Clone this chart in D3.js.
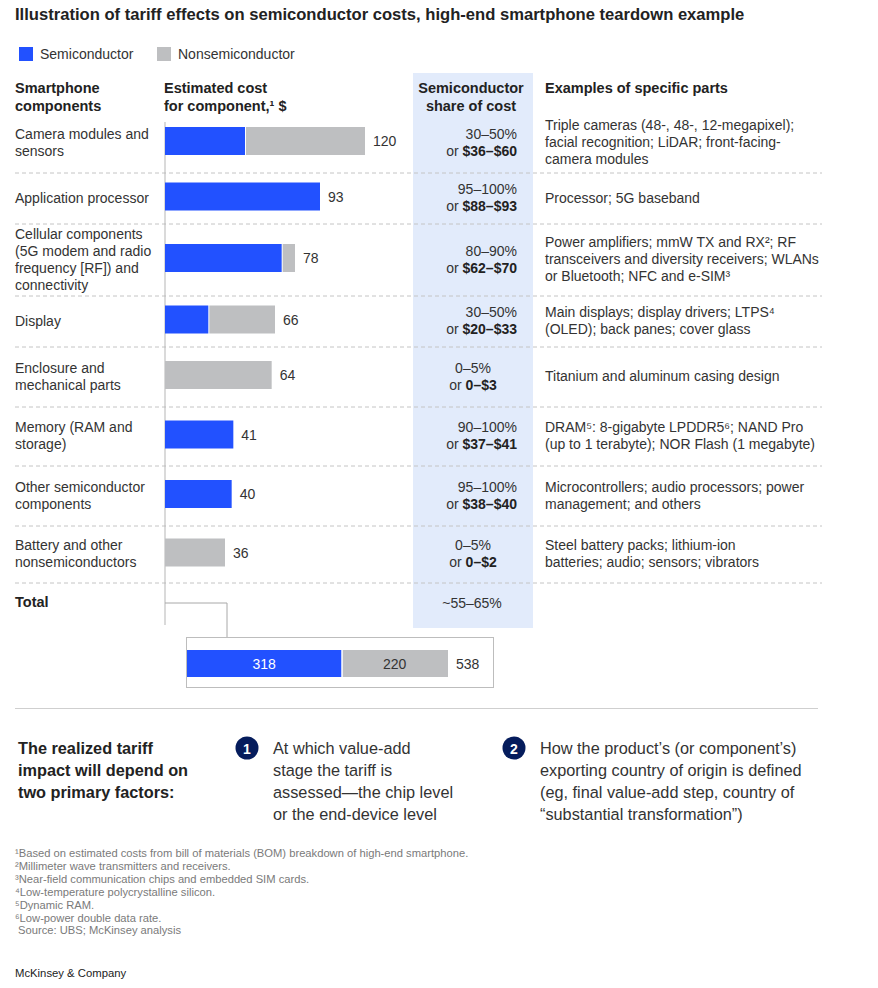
<!DOCTYPE html>
<html>
<head>
<meta charset="utf-8">
<script src="https://cdn.jsdelivr.net/npm/d3@7"></script>
<style>
  body { margin: 0; background: #fff; }
  svg { display: block; font-family: "Liberation Sans", Arial, sans-serif; }
</style>
</head>
<body>
<div id="chart"></div>
<script>
// data
var categories = ["Camera", "AppProc", "Cellular", "Display", "Enclosure", "Memory", "OtherSemi", "Battery"];
var categoryLines = [
  ["Camera modules and", "sensors"],
  ["Application processor"],
  ["Cellular components", "(5G modem and radio", "frequency [RF]) and", "connectivity"],
  ["Display"],
  ["Enclosure and", "mechanical parts"],
  ["Memory (RAM and", "storage)"],
  ["Other semiconductor", "components"],
  ["Battery and other", "nonsemiconductors"]
];
var semiValues = [48, 93, 70, 26, 0, 41, 40, 0];
var nonsemiValues = [72, 0, 8, 40, 64, 0, 0, 36];
var sharePct = ["30–50%", "95–100%", "80–90%", "30–50%", "0–5%", "90–100%", "95–100%", "0–5%"];
var shareDollar = ["$36–$60", "$88–$93", "$62–$70", "$20–$33", "0–$3", "$37–$41", "$38–$40", "0–$2"];
var totalShare = "~55–65%";
var exampleLines = [
  ["Triple cameras (48-, 48-, 12-megapixel);", "facial recognition; LiDAR; front-facing-", "camera modules"],
  ["Processor; 5G baseband"],
  ["Power amplifiers; mmW TX and RX²; RF", "transceivers and diversity receivers; WLANs", "or Bluetooth; NFC and e-SIM³"],
  ["Main displays; display drivers; LTPS⁴", "(OLED); back panes; cover glass"],
  ["Titanium and aluminum casing design"],
  ["DRAM⁵: 8-gigabyte LPDDR5⁶; NAND Pro", "(up to 1 terabyte); NOR Flash (1 megabyte)"],
  ["Microcontrollers; audio processors; power", "management; and others"],
  ["Steel battery packs; lithium-ion", "batteries; audio; sensors; vibrators"]
];
var seriesNames = ["Semiconductor", "Nonsemiconductor"];
var factorIntro = ["The realized tariff", "impact will depend on", "two primary factors:"];
var factors = [
  ["At which value-add", "stage the tariff is", "assessed—the chip level", "or the end-device level"],
  ["How the product’s (or component’s)", "exporting country of origin is defined", "(eg, final value-add step, country of", "“substantial transformation”)"]
];
var footnotes = [
  "¹Based on estimated costs from bill of materials (BOM) breakdown of high-end smartphone.",
  "²Millimeter wave transmitters and receivers.",
  "³Near-field communication chips and embedded SIM cards.",
  "⁴Low-temperature polycrystalline silicon.",
  "⁵Dynamic RAM.",
  "⁶Low-power double data rate.",
  " Source: UBS; McKinsey analysis"
];

var width = 878, height = 988;
var blue = "#2251ff", grey = "#bebfc1", ink = "#222", navy = "#051c5c";
var rowHeights = [60, 51, 72, 51, 60, 59, 60, 57];
var rowStart = 113;
var lineH = 17;
var barH = 28;
var bodySize = 14;

var tops = [];
rowHeights.reduce(function (acc, h) { tops.push(acc); return acc + h; }, rowStart);
var rowTop = d3.scaleOrdinal(categories, tops);
var rowH = d3.scaleOrdinal(categories, rowHeights);
function rowMid(c) { return rowTop(c) + rowH(c) / 2; }
var tableBottom = tops[tops.length - 1] + rowHeights[rowHeights.length - 1];

var x = d3.scaleLinear().domain([0, 120]).range([165, 365]);
var color = d3.scaleOrdinal(seriesNames, [blue, grey]);

var rows = categories.map(function (c, i) {
  return { cat: c, semi: semiValues[i], non: nonsemiValues[i], total: semiValues[i] + nonsemiValues[i],
           lines: categoryLines[i], pct: sharePct[i], dollar: shareDollar[i], ex: exampleLines[i] };
});
var totalSemi = d3.sum(semiValues), totalNon = d3.sum(nonsemiValues);
var grand = totalSemi + totalNon;

var svg = d3.select("#chart").append("svg")
  .attr("width", width).attr("height", height);

// title
svg.append("text").attr("x", 15).attr("y", 20)
  .attr("font-size", 16.6).attr("font-weight", "bold").attr("fill", ink)
  .text("Illustration of tariff effects on semiconductor costs, high-end smartphone teardown example");

// legend
var leg = svg.selectAll(".leg").data(seriesNames).enter().append("g")
  .attr("transform", function (d, i) { return "translate(" + [19, 157][i] + ",47)"; });
leg.append("rect").attr("width", 14).attr("height", 14).attr("fill", function (d) { return color(d); });
leg.append("text").attr("x", 21).attr("y", 12).attr("font-size", bodySize).attr("fill", "#333")
  .text(function (d) { return d; });

// shaded share column
svg.append("rect").attr("x", 413).attr("y", 73).attr("width", 120)
  .attr("height", 628 - 73).attr("fill", "#e2ebfb");

// headers
function multiline(g, lines, xPos, y0, opts) {
  var t = g.append("text").attr("x", xPos).attr("y", y0)
    .attr("font-size", opts.size).attr("fill", opts.fill || ink)
    .attr("font-weight", opts.weight || "normal")
    .attr("text-anchor", opts.anchor || "start");
  lines.forEach(function (l, i) {
    t.append("tspan").attr("x", xPos).attr("dy", i === 0 ? 0 : opts.lh).text(l);
  });
  return t;
}
var hdr = svg.append("g");
multiline(hdr, ["Smartphone", "components"], 15, 93, { size: 14.5, weight: "bold", lh: 18 });
multiline(hdr, ["Estimated cost", "for component,¹ $"], 164, 93, { size: 14.5, weight: "bold", lh: 18 });
multiline(hdr, ["Semiconductor", "share of cost"], 471, 93, { size: 14.5, weight: "bold", lh: 18, anchor: "middle" });
multiline(hdr, ["Examples of specific parts"], 545, 93, { size: 14.5, weight: "bold", lh: 18 });

// separators
svg.selectAll(".sep").data(categories).enter().append("line")
  .attr("x1", 15).attr("x2", 822)
  .attr("y1", function (c) { return rowTop(c) + rowH(c); })
  .attr("y2", function (c) { return rowTop(c) + rowH(c); })
  .attr("stroke", "#c4c4c4").attr("stroke-dasharray", "4,3");

// axis line
svg.append("line").attr("x1", x(0)).attr("x2", x(0)).attr("y1", 122).attr("y2", 625)
  .attr("stroke", "#b5b5b5");

var row = svg.selectAll(".row").data(rows).enter().append("g");

row.each(function (d) {
  var g = d3.select(this);
  var mid = rowMid(d.cat) - 1;
  multiline(g, d.lines, 15, mid - (d.lines.length - 1) * lineH / 2 + 5, { size: bodySize, lh: lineH, fill: "#333" });
  multiline(g, d.ex, 545, mid - (d.ex.length - 1) * lineH / 2 + 5, { size: bodySize, lh: lineH, fill: "#333" });

  var short = d.pct.length <= 4;
  var ax = short ? 473 : 517;
  var anchor = short ? "middle" : "end";
  var t = g.append("text").attr("font-size", bodySize).attr("fill", "#333").attr("text-anchor", anchor)
    .attr("y", mid - lineH / 2 + 5);
  t.append("tspan").attr("x", ax).text(d.pct);
  var t2 = t.append("tspan").attr("x", ax).attr("dy", lineH);
  t2.append("tspan").text("or ");
  t2.append("tspan").attr("font-weight", "bold").attr("fill", ink).text(d.dollar);

  var by = mid - barH / 2 - 1;
  if (d.semi > 0) {
    g.append("rect").attr("x", x(0)).attr("y", by).attr("height", barH)
      .attr("width", x(d.semi) - x(0)).attr("fill", color(seriesNames[0]));
  }
  if (d.non > 0) {
    var gap = d.semi > 0 ? 1 : 0;
    g.append("rect").attr("x", x(d.semi) + gap).attr("y", by).attr("height", barH)
      .attr("width", x(d.total) - x(d.semi) - gap).attr("fill", color(seriesNames[1]));
  }
  g.append("text").attr("x", x(d.total) + 8).attr("y", by + barH / 2 + 5)
    .attr("font-size", bodySize).attr("fill", "#333").text(d.total);
});

// total row
svg.append("text").attr("x", 15).attr("y", tableBottom + 24).attr("font-size", 14.5)
  .attr("font-weight", "bold").attr("fill", ink).text("Total");
svg.append("text").attr("x", 472).attr("y", tableBottom + 25).attr("font-size", bodySize)
  .attr("text-anchor", "middle").attr("fill", "#333").text(totalShare);

var xt = d3.scaleLinear().domain([0, grand]).range([187, 448]);
svg.append("path")
  .attr("d", "M" + x(0) + "," + (tableBottom + 20) + "H227V637")
  .attr("fill", "none").attr("stroke", "#a8a8a8");
svg.append("rect").attr("x", 186.5).attr("y", 637.5).attr("width", 307).attr("height", 50)
  .attr("fill", "#fff").attr("stroke", "#bdbdbd");
var tb = svg.append("g");
tb.append("rect").attr("x", xt(0)).attr("y", 650).attr("height", 27)
  .attr("width", xt(totalSemi) - xt(0)).attr("fill", blue);
tb.append("rect").attr("x", xt(totalSemi) + 1.5).attr("y", 650).attr("height", 27)
  .attr("width", xt(grand) - xt(totalSemi) - 1.5).attr("fill", grey);
tb.append("text").attr("x", (xt(0) + xt(totalSemi)) / 2).attr("y", 668.5)
  .attr("text-anchor", "middle").attr("font-size", bodySize).attr("fill", "#fff").text(totalSemi);
tb.append("text").attr("x", (xt(totalSemi) + xt(grand)) / 2).attr("y", 668.5)
  .attr("text-anchor", "middle").attr("font-size", bodySize).attr("fill", "#333").text(totalNon);
tb.append("text").attr("x", xt(grand) + 8).attr("y", 668.5)
  .attr("font-size", bodySize).attr("fill", "#333").text(grand);

// divider
svg.append("line").attr("x1", 15).attr("x2", 818).attr("y1", 708.5).attr("y2", 708.5)
  .attr("stroke", "#cfcfcf");

// factors
multiline(svg, factorIntro, 18, 754, { size: 16.3, weight: "bold", lh: 22 });
var fg = svg.selectAll(".factor").data(factors).enter().append("g")
  .attr("transform", function (d, i) { return "translate(" + [247, 514][i] + ",0)"; });
fg.append("circle").attr("cx", 0).attr("cy", 748).attr("r", 11.5).attr("fill", navy);
fg.append("text").attr("x", 0).attr("y", 753.5).attr("text-anchor", "middle")
  .attr("font-size", 14).attr("font-weight", "bold").attr("fill", "#fff")
  .text(function (d, i) { return i + 1; });
fg.each(function (d) {
  multiline(d3.select(this), d, 26, 754, { size: 16.3, lh: 22, fill: "#333" });
});

// footnotes
multiline(svg, footnotes, 15, 857, { size: 11.2, lh: 12.9, fill: "#7a7a7a" });
svg.append("text").attr("x", 15).attr("y", 977).attr("font-size", 11.3).attr("fill", ink)
  .text("McKinsey & Company");
</script>
</body>
</html>
